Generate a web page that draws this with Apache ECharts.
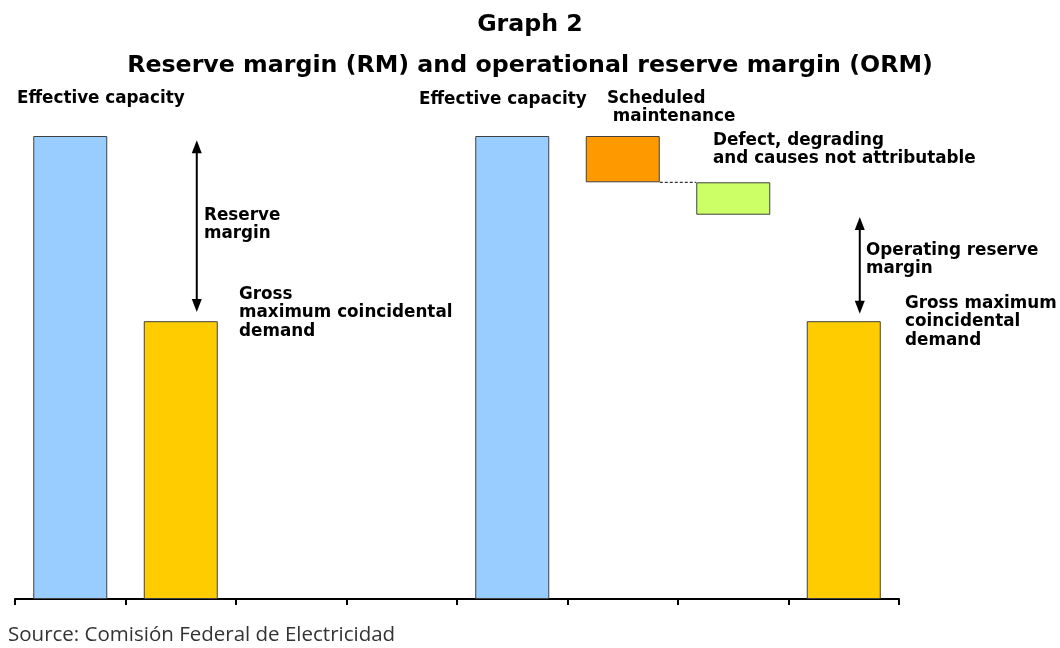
<!DOCTYPE html>
<html><head><meta charset="utf-8">
<script src="https://cdn.jsdelivr.net/npm/echarts@6/dist/echarts.min.js"></script>
<style>html,body{margin:0;padding:0;background:#fff}#c{width:1060px;height:648px}</style>
</head><body><div id="c"></div>
<script>
// ---- data ----
const categories = ['', '', '', '', '', '', '', ''];
const effectiveCapacity = [100, '-', '-', '-', 100, '-', '-', '-'];
const grossDemand = ['-', 60, '-', '-', '-', '-', '-', 60];
const waterfallBase = ['-', '-', '-', '-', '-', 90, 83, '-'];
const scheduledMaintenance = ['-', '-', '-', '-', '-', 10, '-', '-'];
const defectDegrading = ['-', '-', '-', '-', '-', '-', 7, '-'];
// arrows: [category index, from value, to value]
const marginArrows = [[1, 99.1, 62.0], [7, 82.5, 61.6]];
// dashed connector: [from category, to category, value]
const connectors = [[5, 6, 90]];

const chart = echarts.init(document.getElementById('c'));
const BAR_W = 74;
const labelFont = {fontFamily: 'DejaVu Sans', fontWeight: 'bold', fontSize: 16.8, fill: '#000'};
function txt(x, y, s) {
  return {type: 'text', left: x, top: y, style: Object.assign({text: s, lineHeight: 18.5}, labelFont)};
}
const barStyle = (c) => ({color: c, borderColor: '#404040', borderWidth: 1});
const titleStyle = {fontFamily: 'DejaVu Sans', fontWeight: 'bold', fontSize: 23.7, color: '#000'};

chart.setOption({
  animation: false,
  title: [
    {text: 'Graph 2', left: 'center', top: 8, textStyle: titleStyle},
    {text: 'Reserve margin (RM) and operational reserve margin (ORM)', left: 'center', top: 49, textStyle: titleStyle}
  ],
  grid: {left: 15, right: 161, top: 136, bottom: 49},
  xAxis: {
    type: 'category', data: categories, boundaryGap: true,
    axisLine: {lineStyle: {color: '#000', width: 2}},
    axisTick: {show: true, length: 6, lineStyle: {color: '#000', width: 2}},
    axisLabel: {show: false}
  },
  yAxis: {type: 'value', min: 0, max: 100, show: false, splitLine: {show: false}},
  series: [
    {type: 'bar', stack: 'w', data: waterfallBase, barWidth: BAR_W, itemStyle: {color: 'transparent'}, silent: true},
    {type: 'bar', stack: 'w', data: effectiveCapacity, barWidth: BAR_W, itemStyle: barStyle('#99CCFF')},
    {type: 'bar', stack: 'w', data: grossDemand, barWidth: BAR_W, itemStyle: barStyle('#FFCC00')},
    {type: 'bar', stack: 'w', data: scheduledMaintenance, barWidth: BAR_W, itemStyle: barStyle('#FF9900')},
    {type: 'bar', stack: 'w', data: defectDegrading, barWidth: BAR_W, itemStyle: barStyle('#CCFF66')},
    {
      type: 'custom', data: marginArrows, silent: true, z: 5,
      renderItem: function (params, api) {
        const band = api.size([1, 0])[0];
        const p1 = api.coord([api.value(0), api.value(1)]);
        const p2 = api.coord([api.value(0), api.value(2)]);
        const x = p1[0] + band * 0.145;
        const y1 = p1[1], y2 = p2[1], h = 13, w = 5;
        return {type: 'group', children: [
          {type: 'line', shape: {x1: x, y1: y1 + h - 2, x2: x, y2: y2 - h + 2}, style: {stroke: '#000', lineWidth: 2}},
          {type: 'polygon', shape: {points: [[x, y1], [x - w, y1 + h], [x + w, y1 + h]]}, style: {fill: '#000'}},
          {type: 'polygon', shape: {points: [[x, y2], [x - w, y2 - h], [x + w, y2 - h]]}, style: {fill: '#000'}}
        ]};
      }
    },
    {
      type: 'custom', data: connectors, silent: true, z: 5,
      renderItem: function (params, api) {
        const a = api.coord([api.value(0), api.value(2)]);
        const b = api.coord([api.value(1), api.value(2)]);
        return {type: 'line', shape: {x1: a[0] + BAR_W / 2, y1: a[1], x2: b[0] - BAR_W / 2, y2: b[1]},
          style: {stroke: '#000', lineWidth: 1, lineDash: [3, 2]}};
      }
    }
  ],
  graphic: [
    txt(17, 89, 'Effective capacity'),
    txt(419, 90, 'Effective capacity'),
    txt(607, 89, 'Scheduled\n maintenance'),
    txt(713, 131, 'Defect, degrading\nand causes not attributable'),
    txt(204, 206, 'Reserve\nmargin'),
    txt(239, 285, 'Gross\nmaximum coincidental\ndemand'),
    txt(866, 241, 'Operating reserve\nmargin'),
    txt(905, 294, 'Gross maximum\ncoincidental\ndemand'),
    {type: 'text', left: 8, top: 625, style: {text: 'Source: Comisión Federal de Electricidad', fontFamily: 'Open Sans', fontSize: 20.5, fill: '#333'}}
  ]
});
</script></body></html>
